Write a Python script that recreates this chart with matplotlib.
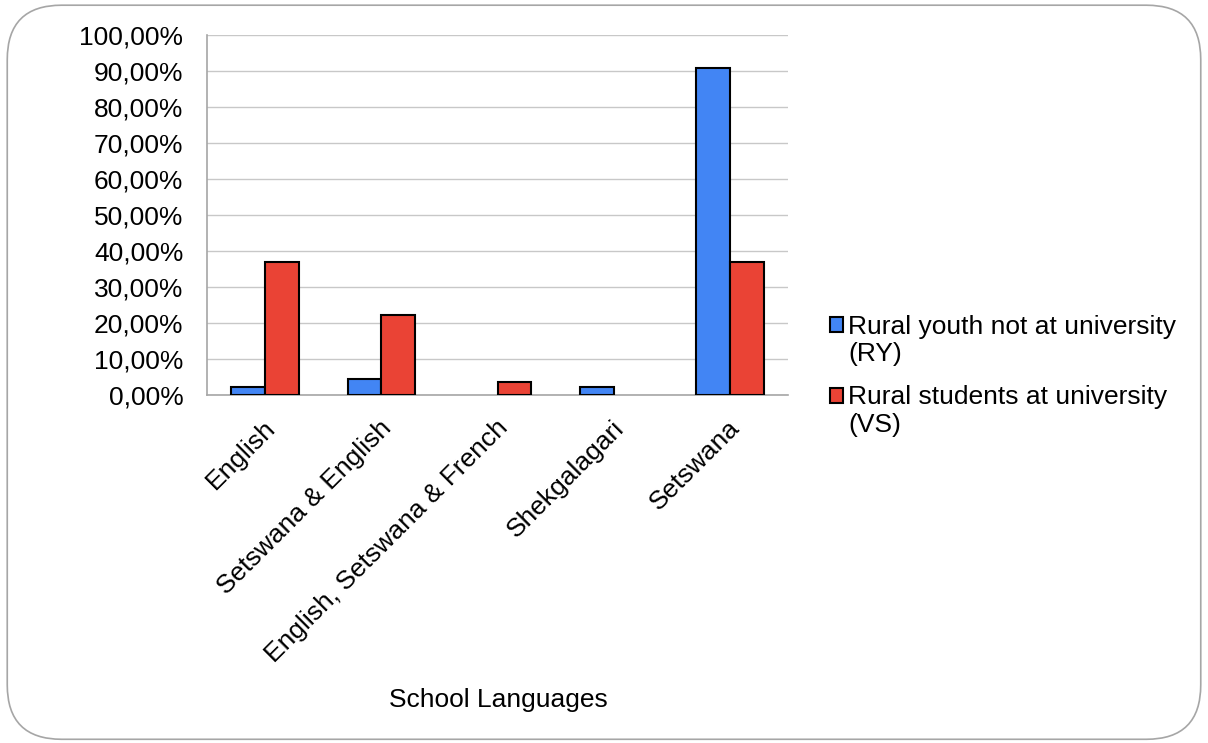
import matplotlib.pyplot as plt
import numpy as np
from matplotlib.patches import FancyBboxPatch
from matplotlib.ticker import FuncFormatter
from matplotlib.legend_handler import HandlerPatch
from matplotlib.transforms import ScaledTranslation

plt.rcParams['font.family'] = ['Liberation Sans', 'DejaVu Sans']

# Share of respondents by language of schooling
languages = ['English', 'Setswana & English', 'English, Setswana & French',
             'Shekgalagari', 'Setswana']
ry_share = [2.27, 4.55, 0.0, 2.27, 90.91]
vs_share = [37.04, 22.22, 3.70, 0.0, 37.04]
series_names = ['Rural youth not at university\n(RY)',
                'Rural students at university\n(VS)']


class FirstLineHandler(HandlerPatch):
    # put the legend square next to the first line of a two-line label
    def create_artists(self, legend, orig_handle, xdescent, ydescent,
                       width, height, fontsize, trans):
        arts = super().create_artists(legend, orig_handle, xdescent, ydescent,
                                      width, height, fontsize, trans)
        for a in arts:
            a.set_y(a.get_y() + 0.6 * fontsize)
        return arts


fig = plt.figure(figsize=(12.08, 7.43), dpi=100)

# rounded frame around the whole chart
frame = FancyBboxPatch((0.006, 0.005), 0.988, 0.988,
                       boxstyle='round,pad=0,rounding_size=0.045',
                       transform=fig.transFigure, facecolor='none',
                       edgecolor='#a6a6a6', linewidth=1.2, mutation_aspect=1208 / 743,
                       zorder=-1)
fig.patches.append(frame)

ax = fig.add_axes([207 / 1208, 1 - 395 / 743, 581 / 1208, 360 / 743])
ax.set_facecolor('none')

x = np.arange(len(languages))
w = 0.29
bars_ry = ax.bar(x - w / 2, ry_share, w, color='#4285F4', edgecolor='black',
                 linewidth=1.5, zorder=3)
bars_vs = ax.bar(x + w / 2, vs_share, w, color='#EA4335', edgecolor='black',
                 linewidth=1.5, zorder=3)
for b in list(bars_ry) + list(bars_vs):
    if b.get_height() == 0:
        b.set_visible(False)

ax.set_xlim(-0.5, len(languages) - 0.5)
ax.set_ylim(0, 100)
ax.set_yticks(np.arange(0, 101, 10))
ax.yaxis.set_major_formatter(FuncFormatter(lambda v, p: f'{v:.2f}%'.replace('.', ',')))
ax.grid(axis='y', color='#c8c8c8', linewidth=1, zorder=0)

ax.set_xticks(x)
ax.set_xticklabels(languages, rotation=45, ha='right', rotation_mode='anchor')
ax.tick_params(axis='x', length=0, pad=15, labelsize=19)
ax.tick_params(axis='y', length=0, pad=17, labelsize=19)
shift = ScaledTranslation(-2 / 100, 0, fig.dpi_scale_trans)
for lab in ax.get_xticklabels():
    lab.set_transform(lab.get_transform() + shift)

for side in ['top', 'right']:
    ax.spines[side].set_visible(False)
for side in ['left', 'bottom']:
    ax.spines[side].set_color('#a6a6a6')
    ax.spines[side].set_linewidth(1.2)

fig.text(498 / 1208, 1 - 700 / 743, 'School Languages', ha='center', va='center',
         fontsize=19)

leg = fig.legend(handles=[bars_ry[0], bars_vs[0]], labels=series_names,
                 loc='upper left', bbox_to_anchor=(819 / 1208, 1 - 304 / 743),
                 frameon=False, fontsize=19, handlelength=0.5, handleheight=0.5,
                 handletextpad=0.2, labelspacing=0.7, borderaxespad=0,
                 handler_map={type(bars_ry[0]): FirstLineHandler()})

fig.savefig('out.png', dpi=100)
